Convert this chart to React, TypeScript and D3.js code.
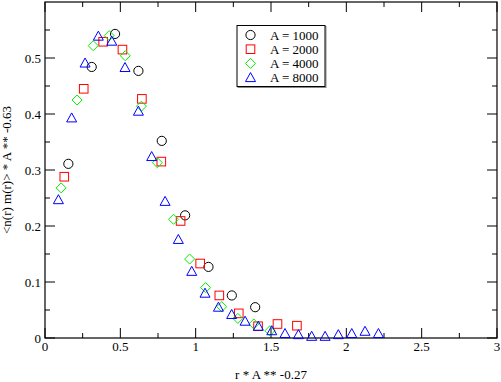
import React from "react";
import * as d3 from "d3";

const xTicks = [0, 0.5, 1, 1.5, 2, 2.5, 3];
const xTickLabels = ["0", "0.5", "1", "1.5", "2", "2.5", "3"];
const yTicks = [0, 0.1, 0.2, 0.3, 0.4, 0.5];
const yTickLabels = ["0", "0.1", "0.2", "0.3", "0.4", "0.5"];

const seriesNames = ["A = 1000", "A = 2000", "A = 4000", "A = 8000"];

const a1000X = [0.155, 0.31, 0.465, 0.62, 0.775, 0.93, 1.085, 1.24, 1.395];
const a1000Y = [0.311, 0.484, 0.543, 0.477, 0.352, 0.219, 0.127, 0.076, 0.055];

const a2000X = [0.128, 0.257, 0.386, 0.514, 0.643, 0.772, 0.9, 1.03, 1.157, 1.286, 1.414, 1.543, 1.672];
const a2000Y = [0.288, 0.445, 0.529, 0.515, 0.427, 0.315, 0.209, 0.133, 0.076, 0.044, 0.021, 0.025, 0.022];

const a4000X = [0.107, 0.213, 0.32, 0.426, 0.533, 0.64, 0.746, 0.853, 0.96, 1.066, 1.173, 1.28, 1.386, 1.493];
const a4000Y = [0.268, 0.425, 0.522, 0.54, 0.504, 0.414, 0.313, 0.212, 0.141, 0.09, 0.056, 0.035, 0.025, 0.013];

const a8000X = [0.089, 0.177, 0.266, 0.354, 0.443, 0.531, 0.62, 0.708, 0.797, 0.885, 0.974, 1.062, 1.151, 1.239, 1.328, 1.416, 1.505, 1.593, 1.682, 1.77, 1.859, 1.947, 2.036, 2.124, 2.213];
const a8000Y = [0.247, 0.393, 0.491, 0.539, 0.53, 0.483, 0.405, 0.324, 0.244, 0.176, 0.119, 0.08, 0.055, 0.042, 0.03, 0.021, 0.013, 0.008, 0.006, 0.003, 0.003, 0.006, 0.008, 0.012, 0.008];

const W = 501;
const H = 382;
const L = 45, R = 497, T = 2, B = 338;
const FONT = "'Liberation Serif', 'Times New Roman', serif";

const colors = ["#000000", "#ff0000", "#00ee00", "#0000ff"];

function Marker({ kind, x, y, color }: { kind: number; x: number; y: number; color: string }) {
  const common = { fill: "none", stroke: color, strokeWidth: 1 };
  if (kind === 0) return <circle cx={x} cy={y} r={4.6} {...common} />;
  if (kind === 1) return <rect x={x - 4.3} y={y - 4.3} width={8.6} height={8.6} {...common} />;
  if (kind === 2)
    return <path d={`M${x},${y - 5}L${x + 5},${y}L${x},${y + 5}L${x - 5},${y}Z`} {...common} />;
  return <path d={`M${x},${y - 5}L${x + 5},${y + 4}L${x - 5},${y + 4}Z`} {...common} />;
}

export default function App() {
  const x = d3.scaleLinear().domain([0, 3]).range([L, R]);
  const y = d3.scaleLinear().domain([0, 0.6]).range([B, T]);

  const series = [
    { xs: a1000X, ys: a1000Y },
    { xs: a2000X, ys: a2000Y },
    { xs: a4000X, ys: a4000Y },
    { xs: a8000X, ys: a8000Y },
  ];

  const xMinor = d3.range(0.25, 3, 0.5);
  const yMinor = d3.range(0.05, 0.6, 0.1);

  const major = 10, minor = 5;

  return (
    <svg width={W} height={H} style={{ position: "absolute", left: 0, top: 0, background: "#fff" }}>
      <rect x={0} y={0} width={W} height={H} fill="#fff" />
      <rect x={L} y={T} width={R - L} height={B - T} fill="none" stroke="#000" strokeWidth={1.2} />
      {xTicks.map((t, i) => (
        <g key={"xt" + i}>
          <line x1={x(t)} x2={x(t)} y1={B} y2={B - major} stroke="#000" />
          <line x1={x(t)} x2={x(t)} y1={T} y2={T + major} stroke="#000" />
          <text x={x(t)} y={351} textAnchor="middle" fontFamily={FONT} fontSize={13}>
            {xTickLabels[i]}
          </text>
        </g>
      ))}
      {xMinor.map((t, i) => (
        <g key={"xm" + i}>
          <line x1={x(t)} x2={x(t)} y1={B} y2={B - minor} stroke="#000" />
          <line x1={x(t)} x2={x(t)} y1={T} y2={T + minor} stroke="#000" />
        </g>
      ))}
      {yTicks.map((t, i) => (
        <g key={"yt" + i}>
          <line x1={L} x2={L + major} y1={y(t)} y2={y(t)} stroke="#000" />
          <line x1={R} x2={R - major} y1={y(t)} y2={y(t)} stroke="#000" />
          <text x={41} y={y(t) + 4.5} textAnchor="end" fontFamily={FONT} fontSize={13}>
            {yTickLabels[i]}
          </text>
        </g>
      ))}
      {yMinor.map((t, i) => (
        <g key={"ym" + i}>
          <line x1={L} x2={L + minor} y1={y(t)} y2={y(t)} stroke="#000" />
          <line x1={R} x2={R - minor} y1={y(t)} y2={y(t)} stroke="#000" />
        </g>
      ))}
      <text x={(L + R) / 2} y={379} textAnchor="middle" fontFamily={FONT} fontSize={13}>
        r * A ** -0.27
      </text>
      <text
        transform={`translate(11,${(T + B) / 2}) rotate(-90)`}
        textAnchor="middle"
        fontFamily={FONT}
        fontSize={13}
      >
        {"<n(r) m(r)> * A ** -0.63"}
      </text>
      {series.map((s, si) => (
        <g key={"s" + si}>
          {s.xs.map((xv, j) => (
            <Marker key={j} kind={si} x={x(xv)} y={y(s.ys[j])} color={colors[si]} />
          ))}
        </g>
      ))}
      <rect x={238} y={26.5} width={88} height={61} fill="none" stroke="#888" strokeWidth={1} />
      <rect x={237} y={25.5} width={88} height={61} fill="#fff" stroke="#000" strokeWidth={1} />
      {seriesNames.map((n, i) => (
        <g key={"lg" + i}>
          <Marker kind={i} x={250.5} y={35 + i * 14.2} color={colors[i]} />
          <text x={270} y={39.5 + i * 14.2} fontFamily={FONT} fontSize={13}>
            {n}
          </text>
        </g>
      ))}
    </svg>
  );
}
